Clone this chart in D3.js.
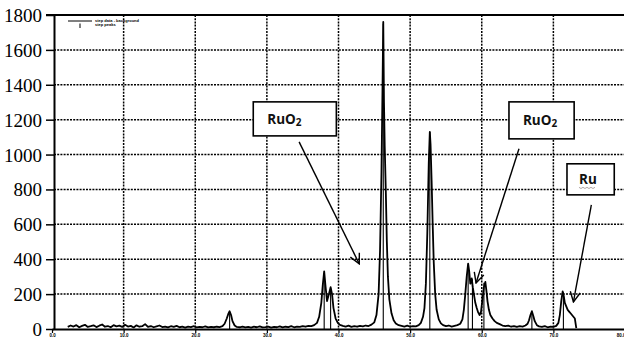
<!DOCTYPE html>
<html>
<head>
<meta charset="utf-8">
<script src="https://cdn.jsdelivr.net/npm/d3@7"></script>
<style>
  body { margin: 0; background: #fff; }
  svg { display: block; }
</style>
</head>
<body>
<svg id="chart" width="624" height="339"></svg>
<script>
// 2-theta positions and counts
const twoTheta = [
  2.2, 2.6, 3.0, 3.4, 3.8, 4.2, 4.6, 5.0, 5.4, 5.8, 6.2, 6.6, 7.0, 7.4, 7.8, 8.2, 8.6, 9.0, 9.4, 9.8,
  10.2, 10.6, 11.0, 11.4, 11.8, 12.2, 12.6, 13.0, 13.4, 13.8, 14.2, 14.6, 15.0, 15.4, 15.8, 16.2, 16.6,
  17.0, 17.4, 17.8, 18.2, 18.6, 19.0, 19.4, 19.8, 20.2, 20.6, 21.0, 21.4, 21.8, 22.2, 22.6, 23.0, 23.4,
  23.8, 24.1, 24.4, 24.6, 24.8, 25.0, 25.2, 25.5, 25.8,
  26.2, 26.6, 27.0, 27.4, 27.8, 28.2, 28.6, 29.0, 29.4, 29.8, 30.2, 30.6, 31.0, 31.4, 31.8, 32.2, 32.6,
  33.0, 33.4, 33.8, 34.2, 34.6, 35.0, 35.4, 35.8, 36.2, 36.6, 37.0,
  37.3, 37.6, 37.8, 38.0, 38.2, 38.4, 38.6, 38.9, 39.1, 39.3, 39.6, 39.9, 40.2,
  40.6, 41.0, 41.4, 41.8, 42.2, 42.6, 43.0, 43.4, 43.8, 44.2, 44.6, 45.0, 45.3,
  45.6, 45.8, 46.0, 46.15, 46.25, 46.35, 46.45, 46.6, 46.75, 46.9, 47.1, 47.4, 47.7, 48.0, 48.4,
  48.8, 49.2, 49.6, 50.0, 50.4, 50.8, 51.2, 51.5, 51.8,
  52.0, 52.2, 52.4, 52.6, 52.75, 52.85, 53.0, 53.15, 53.3, 53.5, 53.7, 54.0, 54.3, 54.6,
  55.0, 55.4, 55.8, 56.2, 56.6, 57.0, 57.3,
  57.5, 57.7, 57.9, 58.1, 58.25, 58.4, 58.6, 58.75, 58.9, 59.1, 59.3, 59.5, 59.7, 59.9, 60.1, 60.3,
  60.5, 60.65, 60.8, 61.0, 61.2, 61.5, 61.8, 62.1, 62.5, 62.9,
  63.3, 63.7, 64.1, 64.5, 64.9, 65.3, 65.7, 66.1, 66.4,
  66.6, 66.8, 67.0, 67.2, 67.4, 67.7, 68.0,
  68.4, 68.8, 69.2, 69.6, 70.0, 70.4, 70.7,
  70.9, 71.1, 71.3, 71.45, 71.6, 71.8, 72.0, 72.2, 72.4, 72.6, 72.8, 73.0, 73.2
];
const counts = [
  12, 20, 14, 22, 10, 18, 24, 12, 16, 21, 11, 19, 26, 13, 17, 10, 22, 15, 19, 12,
  24, 14, 18, 9, 21, 13, 16, 28, 12, 17, 10, 15, 20, 11, 14, 9, 16,
  12, 18, 10, 13, 8, 14, 11, 16, 9, 12, 10, 15, 9, 12, 10, 13, 11,
  16, 30, 60, 85, 102, 80, 45, 20, 12,
  10, 14, 9, 12, 8, 13, 10, 15, 9, 11, 14, 8, 12, 10, 15, 9, 13,
  11, 16, 10, 14, 12, 17, 13, 18, 16, 22, 35,
  70, 150, 250, 330, 240, 160, 190, 240, 200, 120, 60, 35, 24,
  18, 14, 19, 12, 16, 13, 18, 15, 20, 17, 25, 38, 80,
  200, 450, 900, 1400, 1760, 1300, 1050, 800, 500, 300, 170, 90, 50, 32, 22,
  18, 14, 19, 13, 17, 15, 22, 35, 70,
  120, 260, 550, 950, 1130, 1060, 850, 600, 380, 200, 110, 55, 32, 22,
  16, 20, 14, 18, 22, 30, 55,
  110, 200, 300, 375, 330, 260, 290, 240, 200, 150, 120, 95, 80, 100, 170, 240,
  270, 220, 160, 110, 80, 60, 45, 35, 28, 20,
  16, 19, 13, 17, 12, 16, 14, 20, 30,
  50, 80, 102, 75, 45, 22, 15,
  12, 16, 10, 14, 12, 18, 35,
  80, 160, 215, 190, 150, 130, 110, 100, 90, 80, 70, 60, 5
];

// fitted peak positions (step peaks)
const peakPos = [24.8, 38.0, 38.9, 46.25, 52.75, 58.1, 58.7, 60.3, 67.0, 71.4];
const peakHeight = [90, 320, 235, 1750, 1130, 370, 285, 265, 95, 210];

const xTicks = [0, 10, 20, 30, 40, 50, 60, 70, 80];
const xTickLabels = ["0.0", "10.0", "20.0", "30.0", "40.0", "50.0", "60.0", "70.0", "80.0"];
const yTicks = [0, 200, 400, 600, 800, 1000, 1200, 1400, 1600, 1800];

const legendLabels = ["step data - background", "step peaks"];

// call-out boxes: label, box corners (2theta, counts), arrow from -> to
const calloutLabels = ["RuO", "RuO", "Ru"];
const calloutSub = ["2", "2", ""];
const calloutBox = [[28.1, 1302, 39.7, 1107], [63.8, 1302, 72.9, 1090], [71.9, 947, 78.5, 769]];
const calloutArrow = [[34.5, 1073, 42.9, 373], [65.2, 1033, 59.2, 264], [75.3, 711, 72.8, 155]];

const svg = d3.select("#chart");
const margin = {top: 15, left: 54, bottom: 329};

const x = d3.scaleLinear().domain([0, 80]).range([52, 625]);
const y = d3.scaleLinear().domain([0, 1800]).range([margin.bottom, margin.top]);

// dotted grid
svg.append("g")
  .selectAll("line")
  .data(yTicks.filter(d => d > 0 && d < 1800))
  .join("line")
  .attr("x1", margin.left).attr("x2", 624)
  .attr("y1", d => y(d)).attr("y2", d => y(d))
  .attr("stroke", "#000").attr("stroke-width", 1.5)
  .attr("stroke-dasharray", "2,1.2");

svg.append("g")
  .selectAll("line")
  .data(xTicks.filter(d => d > 0 && d < 80))
  .join("line")
  .attr("x1", d => x(d)).attr("x2", d => x(d))
  .attr("y1", margin.top).attr("y2", margin.bottom)
  .attr("stroke", "#000").attr("stroke-width", 1.5)
  .attr("stroke-dasharray", "2,1.2");

// top frame
svg.append("line")
  .attr("x1", margin.left - 8).attr("x2", 624)
  .attr("y1", margin.top).attr("y2", margin.top)
  .attr("stroke", "#000").attr("stroke-width", 2);

// spectrum
const pts = twoTheta.map((t, i) => [t, counts[i]]);
const line = d3.line().x(d => x(d[0])).y(d => y(d[1]));
svg.append("path")
  .datum(pts)
  .attr("d", line)
  .attr("fill", "none")
  .attr("stroke", "#000")
  .attr("stroke-width", 1.8)
  .attr("stroke-linejoin", "round");

// peak sticks
svg.append("g")
  .selectAll("line")
  .data(peakPos)
  .join("line")
  .attr("x1", d => x(d)).attr("x2", d => x(d))
  .attr("y1", y(0)).attr("y2", (d, i) => y(peakHeight[i]))
  .attr("stroke", "#000").attr("stroke-width", 1.1);

// axes
const yAxis = d3.axisLeft(y).tickValues(yTicks).tickFormat(d3.format("d"))
  .tickSize(8).tickSizeOuter(0);
const gy = svg.append("g")
  .attr("transform", `translate(${margin.left},0)`)
  .call(yAxis)
  .attr("font-family", "Liberation Serif")
  .attr("font-size", 19);
gy.select(".domain").attr("stroke-width", 2);
gy.selectAll(".tick line").attr("stroke-width", 1.5);
gy.selectAll(".tick text")
  .attr("x", -12)
  .attr("dy", "0.34em")
  .attr("fill", "#000");

const xAxis = d3.axisBottom(x).tickValues(xTicks)
  .tickFormat((d, i) => xTickLabels[i]).tickSize(4).tickSizeOuter(0);
const gx = svg.append("g")
  .attr("transform", `translate(0,${margin.bottom})`)
  .call(xAxis)
  .attr("font-family", "Liberation Sans")
  .attr("font-size", 4.5)
  .attr("font-weight", "bold");
gx.select(".domain").attr("stroke-width", 2.2);
gx.selectAll(".tick line").attr("stroke-width", 1.2);
gx.selectAll(".tick text")
  .attr("y", 5)
  .attr("text-anchor", d => d == 80 ? "end" : "middle")
  .attr("fill", "#000");

// legend
const legend = svg.append("g").attr("transform", "translate(68,21)");
legend.append("line").attr("x1", 0).attr("x2", 24).attr("y1", 0).attr("y2", 0)
  .attr("stroke", "#000").attr("stroke-width", 1);
legend.append("line").attr("x1", 12).attr("x2", 12).attr("y1", 2.5).attr("y2", 7)
  .attr("stroke", "#000").attr("stroke-width", 1);
legend.selectAll("text")
  .data(legendLabels)
  .join("text")
  .attr("x", 27)
  .attr("y", (d, i) => 1 + i * 4)
  .style("font-family", "'Liberation Sans', sans-serif")
  .style("font-size", "4px")
  .style("font-weight", "bold")
  .text(d => d);

// arrow marker
svg.append("defs").append("marker")
  .attr("id", "head")
  .attr("viewBox", "0 0 12 12")
  .attr("refX", 11).attr("refY", 6)
  .attr("markerWidth", 12).attr("markerHeight", 12)
  .attr("markerUnits", "userSpaceOnUse")
  .attr("orient", "auto")
  .append("path")
  .attr("d", "M1,1 L11,6 L1,11")
  .attr("fill", "none")
  .attr("stroke", "#000")
  .attr("stroke-width", 1.4);

const callouts = svg.append("g")
  .selectAll("g")
  .data(calloutLabels)
  .join("g");

callouts.append("line")
  .attr("x1", (d, i) => x(calloutArrow[i][0]))
  .attr("y1", (d, i) => y(calloutArrow[i][1]))
  .attr("x2", (d, i) => x(calloutArrow[i][2]))
  .attr("y2", (d, i) => y(calloutArrow[i][3]))
  .attr("stroke", "#000").attr("stroke-width", 1.4)
  .attr("marker-end", "url(#head)");

callouts.append("rect")
  .attr("x", (d, i) => x(calloutBox[i][0]))
  .attr("y", (d, i) => y(calloutBox[i][1]))
  .attr("width", (d, i) => x(calloutBox[i][2]) - x(calloutBox[i][0]))
  .attr("height", (d, i) => y(calloutBox[i][3]) - y(calloutBox[i][1]))
  .attr("fill", "#fff").attr("stroke", "#000").attr("stroke-width", 1.6);

const labels = callouts.append("text")
  .attr("x", (d, i) => x(calloutBox[i][0]) + (i == 2 ? 12 : 14))
  .attr("y", (d, i) => (y(calloutBox[i][1]) + y(calloutBox[i][3])) / 2 + 5)
  .style("font-family", "'Open Sans', sans-serif")
  .style("font-size", "13.5px")
  .style("font-weight", "bold")
  .attr("fill", "#111");
labels.append("tspan").text(d => d);
labels.append("tspan")
  .attr("dy", 2)
  .style("font-size", "10px")
  .text((d, i) => calloutSub[i]);

// spell-check squiggle under "Ru"
const ruX = x(calloutBox[2][0]) + 12;
const ruY = (y(calloutBox[2][1]) + y(calloutBox[2][3])) / 2 + 8;
svg.append("path")
  .attr("d", d3.range(0, 9).map(k => (k ? "L" : "M") + (ruX + k * 2) + "," + (ruY + (k % 2) * 1.2)).join(""))
  .attr("fill", "none")
  .attr("stroke", "#9a8f8f")
  .attr("stroke-width", 0.8);
</script>
</body>
</html>
